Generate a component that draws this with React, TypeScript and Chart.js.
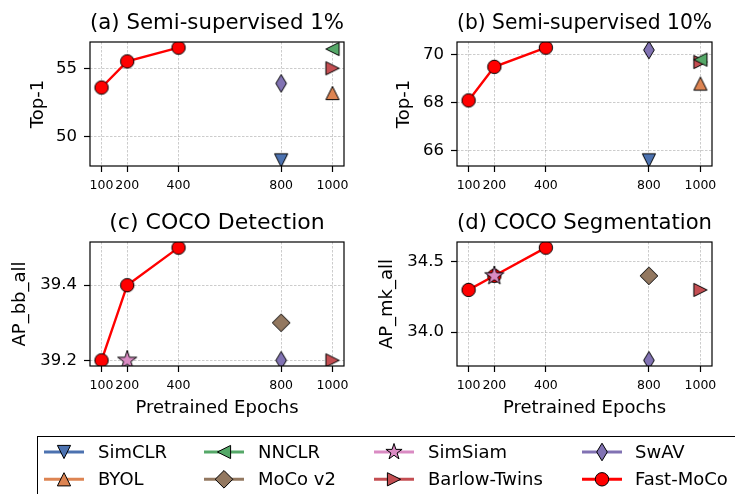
import React, { useEffect, useRef } from 'react';
import { Chart, registerables } from 'chart.js';

Chart.register(...registerables);

const FONT = '"DejaVu Sans", "Liberation Sans", sans-serif';

// ---------------- data ----------------
const xTickValues = [100, 200, 400, 800, 1000];
const fastEpochs = [100, 200, 400];
const baselineNames = ['SimCLR', 'BYOL', 'NNCLR', 'MoCo v2', 'SimSiam', 'Barlow-Twins', 'SwAV'];
const baselineEpochs = [800, 1000, 1000, 800, 200, 1000, 800];

const semi1Fast = [53.6, 55.5, 56.5];
const semi1Base: (number | null)[] = [48.3, 53.2, 56.4, null, null, 55.0, 53.9];
const semi1Ticks = [50, 55];

const semi10Fast = [68.1, 69.5, 70.3];
const semi10Base: (number | null)[] = [65.6, 68.8, 69.8, null, null, 69.7, 70.2];
const semi10Ticks = [66, 68, 70];

const detFast = [39.2, 39.4, 39.5];
const detBase: (number | null)[] = [null, null, null, 39.3, 39.2, 39.2, 39.2];
const detTicks = [39.2, 39.4];

const segFast = [34.3, 34.4, 34.6];
const segBase: (number | null)[] = [null, null, null, 34.4, 34.4, 34.3, 33.8];
const segTicks = [34.0, 34.5];

const fastName = 'Fast-MoCo';

// ---------------- styles ----------------
const baseColors = ['#4C72B0', '#DD8452', '#55A868', '#937860', '#DA8BC3', '#C44E52', '#8172B3'];
const baseShapes = ['v', '^', '<', 'D', '*', '>', 'd'];
const fastColor = '#ff0000';

function drawMarker(ctx: CanvasRenderingContext2D, shape: string, cx: number, cy: number, fill: string, starR = 10) {
  ctx.save();
  ctx.beginPath();
  const t = 6.6;
  switch (shape) {
    case 'v':
      ctx.moveTo(cx, cy + t); ctx.lineTo(cx - t, cy - t); ctx.lineTo(cx + t, cy - t); break;
    case '^':
      ctx.moveTo(cx, cy - t); ctx.lineTo(cx - t, cy + t); ctx.lineTo(cx + t, cy + t); break;
    case '<':
      ctx.moveTo(cx - t, cy); ctx.lineTo(cx + t, cy - t); ctx.lineTo(cx + t, cy + t); break;
    case '>':
      ctx.moveTo(cx + t, cy); ctx.lineTo(cx - t, cy - t); ctx.lineTo(cx - t, cy + t); break;
    case 'D': {
      const d = 8.8;
      ctx.moveTo(cx, cy - d); ctx.lineTo(cx + d, cy); ctx.lineTo(cx, cy + d); ctx.lineTo(cx - d, cy); break;
    }
    case 'd': {
      const hw = 5.3, hh = 8.8;
      ctx.moveTo(cx, cy - hh); ctx.lineTo(cx + hw, cy); ctx.lineTo(cx, cy + hh); ctx.lineTo(cx - hw, cy); break;
    }
    case '*': {
      const R = starR, r = starR * 0.381966;
      for (let i = 0; i < 10; i++) {
        const rad = i % 2 === 0 ? R : r;
        const a = -Math.PI / 2 + (i * Math.PI) / 5;
        const px = cx + rad * Math.cos(a), py = cy + rad * Math.sin(a);
        if (i === 0) ctx.moveTo(px, py); else ctx.lineTo(px, py);
      }
      break;
    }
    default:
      ctx.arc(cx, cy, 6.7, 0, Math.PI * 2);
  }
  ctx.closePath();
  ctx.fillStyle = fill;
  ctx.fill();
  ctx.lineWidth = 1;
  ctx.strokeStyle = '#000';
  ctx.lineJoin = 'miter';
  ctx.stroke();
  ctx.restore();
}

function markerImage(shape: string, fill: string): HTMLCanvasElement {
  const c = document.createElement('canvas');
  c.width = 28; c.height = 28;
  const ctx = c.getContext('2d')!;
  drawMarker(ctx, shape, 14, 14, fill);
  return c;
}

const framePlugin = {
  id: 'frame',
  afterDatasetsDraw(chart: any) {
    const { ctx, chartArea: a } = chart;
    ctx.save();
    ctx.strokeStyle = '#000';
    ctx.lineWidth = 1.2;
    ctx.strokeRect(a.left, a.top, a.right - a.left, a.bottom - a.top);
    ctx.restore();
  },
};

type PanelSpec = {
  title: string; yLabel: string; xLabel: string;
  fast: number[]; base: (number | null)[]; yTicks: number[]; decimals: number;
  left: number; top: number; w: number; h: number; yTitlePad: number;
};

const panels: PanelSpec[] = [
  { title: '(a) Semi-supervised 1%', yLabel: 'Top-1', xLabel: '', fast: semi1Fast, base: semi1Base, yTicks: semi1Ticks, decimals: 0, left: 0, top: 0, w: 367, h: 200, yTitlePad: 27.5 },
  { title: '(b) Semi-supervised 10%', yLabel: 'Top-1', xLabel: '', fast: semi10Fast, base: semi10Base, yTicks: semi10Ticks, decimals: 0, left: 367, top: 0, w: 368, h: 200, yTitlePad: 26.5 },
  { title: '(c) COCO Detection', yLabel: 'AP_bb_all', xLabel: 'Pretrained Epochs', fast: detFast, base: detBase, yTicks: detTicks, decimals: 1, left: 0, top: 200, w: 367, h: 220, yTitlePad: 10 },
  { title: '(d) COCO Segmentation', yLabel: 'AP_mk_all', xLabel: 'Pretrained Epochs', fast: segFast, base: segBase, yTicks: segTicks, decimals: 1, left: 367, top: 200, w: 368, h: 220, yTitlePad: 10 },
];

const AREA_LEFT = 90;
const AREA_RIGHT_PAD = 23;
const AREA_BOTTOM = 166;

function buildConfig(p: PanelSpec): any {
  const ys: number[] = [...p.fast, ...(p.base.filter((v) => v !== null) as number[])];
  const ymin = Math.min(...ys), ymax = Math.max(...ys);
  const ym = (ymax - ymin) * 0.05;
  const xs: number[] = [...fastEpochs, ...baselineEpochs.filter((_, i) => p.base[i] !== null)];
  const xmin = Math.min(...xs), xmax = Math.max(...xs);
  const xm = (xmax - xmin) * 0.05;

  const datasets: any[] = baselineNames.map((name, i) => ({
    label: name,
    data: p.base[i] === null ? [] : [{ x: baselineEpochs[i], y: p.base[i] }],
    showLine: false,
    borderColor: baseColors[i],
    backgroundColor: baseColors[i],
    pointStyle: markerImage(baseShapes[i], baseColors[i]),
    pointRadius: 6,
    pointHoverRadius: 6,
    clip: 0,
  }));
  datasets.push({
    label: fastName,
    data: fastEpochs.map((x, j) => ({ x, y: p.fast[j] })),
    showLine: true,
    borderColor: fastColor,
    backgroundColor: fastColor,
    borderWidth: 2.4,
    pointStyle: markerImage('o', fastColor),
    pointRadius: 6,
    pointHoverRadius: 6,
    tension: 0,
    clip: 0,
  });

  const gridCommon = {
    color: 'rgba(140,140,140,0.75)',
    lineWidth: 0.6,
    tickColor: '#000',
    tickLength: 6,
    tickWidth: 1.2,
    tickBorderDash: [],
    drawTicks: true,
  };

  return {
    type: 'line',
    data: { datasets },
    plugins: [framePlugin],
    options: {
      animation: false,
      responsive: false,
      devicePixelRatio: 1,
      events: [],
      layout: { padding: { left: 0, right: AREA_RIGHT_PAD, top: 0, bottom: 0 } },
      plugins: {
        legend: { display: false },
        tooltip: { enabled: false },
        title: {
          display: true,
          text: p.title,
          color: '#000',
          fullSize: false,
          font: { family: FONT, size: 22, weight: 'normal', lineHeight: 1.2 },
          padding: { top: 10.3, bottom: 5.3 },
        },
      },
      scales: {
        x: {
          type: 'linear',
          bounds: 'data',
          min: xmin - xm,
          max: xmax + xm,
          afterBuildTicks: (s: any) => { s.ticks = xTickValues.map((v) => ({ value: v })); },
          afterFit: (s: any) => { s.height = p.h - AREA_BOTTOM; },
          ticks: {
            autoSkip: false,
            maxRotation: 0,
            minRotation: 0,
            color: '#000',
            padding: 6,
            font: { family: FONT, size: 12.5 },
            callback: (v: any) => String(v),
          },
          grid: gridCommon,
          border: { display: false, dash: [2.5, 1.5] },
          title: {
            display: !!p.xLabel,
            text: p.xLabel,
            color: '#000',
            font: { family: FONT, size: 18, lineHeight: 1.2 },
            padding: { top: 0, bottom: 0.5 },
          },
        },
        y: {
          type: 'linear',
          bounds: 'data',
          min: ymin - ym,
          max: ymax + ym,
          afterBuildTicks: (s: any) => { s.ticks = p.yTicks.map((v) => ({ value: v })); },
          afterFit: (s: any) => { s.width = AREA_LEFT; },
          ticks: {
            color: '#000',
            padding: 7,
            font: { family: FONT, size: 16.5 },
            callback: (v: any) => Number(v).toFixed(p.decimals),
          },
          grid: gridCommon,
          border: { display: false, dash: [2.5, 1.5] },
          title: {
            display: true,
            text: p.yLabel,
            color: '#000',
            font: { family: FONT, size: 18, lineHeight: 1.2 },
            padding: { top: p.yTitlePad, bottom: 0 },
          },
        },
      },
    },
  };
}

function PanelChart({ p }: { p: PanelSpec }) {
  const ref = useRef<HTMLCanvasElement>(null);
  useEffect(() => {
    const chart = new Chart(ref.current as HTMLCanvasElement, buildConfig(p));
    return () => chart.destroy();
  }, []);
  return (
    <canvas
      ref={ref}
      width={p.w}
      height={p.h}
      style={{ position: 'absolute', left: p.left, top: p.top, width: p.w, height: p.h }}
    />
  );
}

// ---------------- legend ----------------
const legendNames = [...baselineNames, fastName];
const legendColors = [...baseColors, fastColor];
const legendShapes = [...baseShapes, 'o'];
const legendLineX = [44, 204, 374, 582];
const legendTextX = [98, 258, 428, 635];
const legendRowY = [452, 479.3];
const LEGEND_TOP = 430;

function LegendHandles() {
  const ref = useRef<HTMLCanvasElement>(null);
  useEffect(() => {
    const ctx = ref.current!.getContext('2d')!;
    ctx.clearRect(0, 0, 735, 64);
    legendNames.forEach((_, k) => {
      const col = Math.floor(k / 2), row = k % 2;
      const x0 = legendLineX[col];
      const y = legendRowY[row] - LEGEND_TOP;
      ctx.save();
      ctx.strokeStyle = legendColors[k];
      ctx.lineWidth = 3;
      ctx.beginPath();
      ctx.moveTo(x0, y);
      ctx.lineTo(x0 + 40, y);
      ctx.stroke();
      ctx.restore();
      drawMarker(ctx, legendShapes[k], x0 + 20, y, legendColors[k], 8.5);
    });
  }, []);
  return <canvas ref={ref} width={735} height={64} style={{ position: 'absolute', left: 0, top: LEGEND_TOP, width: 735, height: 64 }} />;
}

export default function App() {
  return (
    <div style={{ position: 'absolute', left: 0, top: 0, width: 735, height: 494, overflow: 'hidden', background: '#fff' }}>
      {panels.map((p, i) => <PanelChart key={i} p={p} />)}
      <div style={{ position: 'absolute', left: 37, top: 436, width: 800, height: 100, border: '1.2px solid #000', boxSizing: 'border-box' }} />
      <LegendHandles />
      {legendNames.map((name, k) => {
        const col = Math.floor(k / 2), row = k % 2;
        return (
          <span
            key={name}
            style={{
              position: 'absolute',
              left: legendTextX[col],
              top: legendRowY[row] + 6.3 - 16.2,
              fontFamily: FONT,
              fontSize: 18,
              lineHeight: '20px',
              color: '#000',
              whiteSpace: 'nowrap',
            }}
          >
            {name}
          </span>
        );
      })}
    </div>
  );
}
